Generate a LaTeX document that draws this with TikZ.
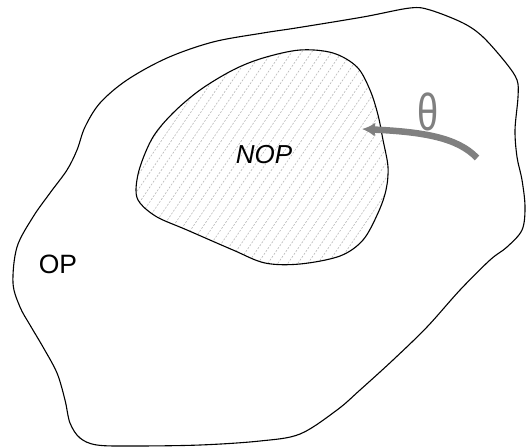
\documentclass[tikz,border=0pt]{standalone}
\usepackage{fontspec}
\setmainfont{Liberation Sans}
\usetikzlibrary{arrows.meta}
\tikzset{
  blob/.style={line width=1.1pt, black},
  hatch/.style={black!28, line width=0.6pt, dash pattern=on 2pt off 1.5pt},
  lbl/.style={font=\fontsize{26.5}{26.5}\selectfont, inner sep=0pt},
  thetaarrow/.style={line width=6.5pt, black!50, -{Latex[length=13pt,width=14pt]}}
}
\begin{document}
\begin{tikzpicture}[x=1pt,y=-1pt]
\useasboundingbox (0,0) rectangle (526,447);
% outer region OP
\draw[blob] plot[smooth cycle, tension=0.55] coordinates {
 (263,33) (213,42) (167,58) (127,80) (100,103) (85,127) (77,150) (67,170)
 (50,193) (33,217) (17,247) (13,283) (20,307) (30,325) (43,347) (57,373)
 (65,400) (70,423) (80,438) (97,445) (133,446) (200,445) (260,441) (300,434)
 (337,410) (360,390) (393,360) (427,327) (460,290) (490,260) (507,247)
 (522,230) (525,207) (522,180) (517,157) (515,130) (518,97) (517,80)
 (506,63) (483,37) (463,23) (430,10) (410,8) (363,17) (296,28)};
% inner region NOP, hatched
\begin{scope}
\clip plot[smooth cycle, tension=0.55] coordinates {
 (300,50) (333,53) (357,67) (370,90) (378,115) (383,140) (388,167) (386,190)
 (378,213) (363,240) (340,256) (300,264) (265,263) (233,250) (187,230)
 (157,217) (140,203) (136,190) (140,167) (153,137) (173,113) (200,90)
 (233,70) (263,58)};
\foreach \x in {-40,-30,...,400}
  \draw[hatch] (\x,275) -- ({\x+160},40);
\end{scope}
\draw[blob] plot[smooth cycle, tension=0.55] coordinates {
 (300,50) (333,53) (357,67) (370,90) (378,115) (383,140) (388,167) (386,190)
 (378,213) (363,240) (340,256) (300,264) (265,263) (233,250) (187,230)
 (157,217) (140,203) (136,190) (140,167) (153,137) (173,113) (200,90)
 (233,70) (263,58)};
% labels
\node[lbl] (op) at (58,264) {OP};
\node[lbl, font=\fontsize{26}{26}\selectfont\itshape] (nop) at (264,155) {NOP};
\node[inner sep=0pt, text=black!50, font=\fontsize{40}{40}\selectfont, xscale=0.95, yscale=1.3] (theta) at (428,112) {θ};
% arrow
\coordinate (astart) at (477,158);
\coordinate (aend) at (362,129);
\draw[thetaarrow] (astart) .. controls (458,138) and (425,132) .. (aend);
\end{tikzpicture}
\end{document}
